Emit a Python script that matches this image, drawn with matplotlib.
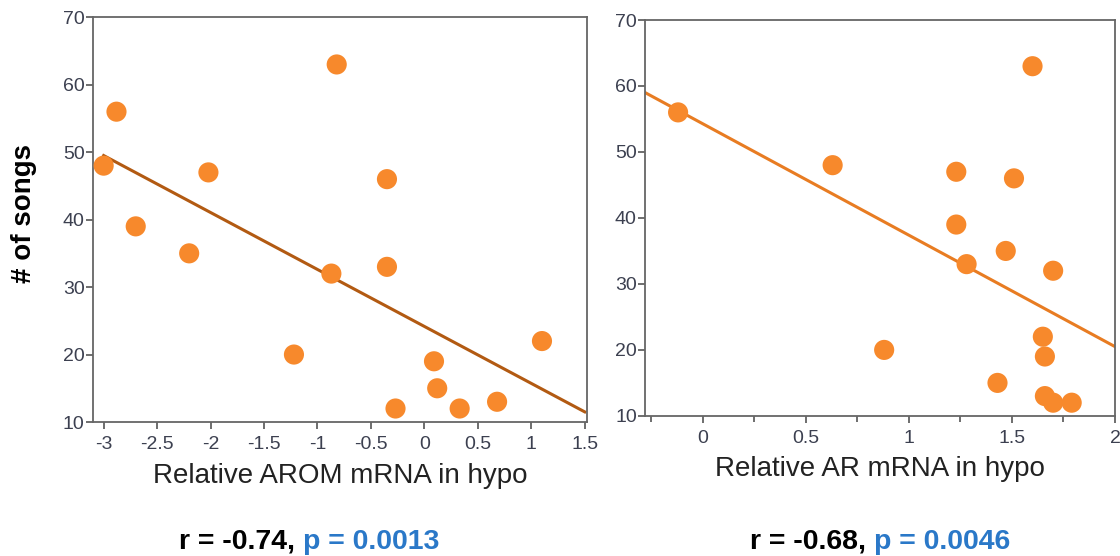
import numpy as np
import matplotlib.pyplot as plt
from matplotlib.ticker import MultipleLocator

plt.rcParams["font.family"] = ["Liberation Sans", "DejaVu Sans"]

# relative AROM mRNA vs song count
arom_x = [-3.0, -2.88, -2.7, -2.2, -2.02, -1.22, -0.87, -0.82, -0.35, -0.35, -0.27, 0.09, 0.12, 0.33, 0.68, 1.1]
arom_y = [48, 56, 39, 35, 47, 20, 32, 63, 46, 33, 12, 19, 15, 12, 13, 22]
arom_fit_x = [-3.0, 1.5]
arom_fit_y = [49.5, 11.5]

# relative AR mRNA vs song count
ar_x = [-0.12, 0.63, 0.88, 1.23, 1.23, 1.28, 1.43, 1.47, 1.51, 1.6, 1.65, 1.66, 1.66, 1.7, 1.7, 1.79]
ar_y = [56, 48, 20, 47, 39, 33, 15, 35, 46, 63, 22, 19, 13, 32, 12, 12]
ar_fit_x = [-0.28, 2.0]
ar_fit_y = [59.0, 20.5]

stats = [("r = -0.74, ", "p = 0.0013"), ("r = -0.68, ", "p = 0.0046")]

dot_color = "#f7892c"
tick_color = "#3c4050"

fig = plt.figure(figsize=(11.2, 5.56), dpi=100)
ax1 = fig.add_axes([0.083, 0.241, 0.441, 0.728])
ax2 = fig.add_axes([0.576, 0.252, 0.4195, 0.712])


def style(ax, xlim, major, minor=None):
    ax.set_xlim(*xlim)
    ax.set_ylim(10, 70)
    ax.xaxis.set_major_locator(MultipleLocator(major))
    if minor:
        ax.xaxis.set_minor_locator(MultipleLocator(minor))
    ax.yaxis.set_major_locator(MultipleLocator(10))
    ax.tick_params(axis="both", which="major", labelsize=14, colors="#555555",
                   labelcolor=tick_color, length=5, width=1.2)
    ax.tick_params(axis="x", which="minor", length=4, width=1.2, colors="#555555")
    ax.tick_params(axis="x", pad=5)
    ax.tick_params(axis="y", pad=1)
    for sp in ax.spines.values():
        sp.set_color("#666666")
        sp.set_linewidth(1.3)
    ax.xaxis.set_major_formatter(plt.FuncFormatter(lambda v, p: f"{v:g}"))


ax1.scatter(arom_x, arom_y, s=210, color=dot_color, edgecolors="none", zorder=3)
ax1.plot(arom_fit_x, arom_fit_y, color="#b25a12", lw=2.2, zorder=2)
style(ax1, (-3.1, 1.52), 0.5)
ax1.set_xlabel("Relative AROM mRNA in hypo", fontsize=20, color="#222222", labelpad=7)
ax1.set_ylabel("# of songs", fontsize=20, fontweight="bold")
ax1.yaxis.set_label_coords(-0.113, 0.515)

ax2.scatter(ar_x, ar_y, s=210, color=dot_color, edgecolors="none", zorder=3)
ax2.plot(ar_fit_x, ar_fit_y, color="#e87c22", lw=2.2, zorder=2)
style(ax2, (-0.28, 2.0), 0.5, 0.25)
ax2.set_xlabel("Relative AR mRNA in hypo", fontsize=20, color="#222222", labelpad=7)

for ax, (r_txt, p_txt), xc in zip([ax1, ax2], stats, [0.2705, 0.780]):
    fig.text(xc, 0.013, r_txt, fontsize=20.5, fontweight="bold", color="black",
             ha="right", va="baseline")
    fig.text(xc, 0.013, p_txt, fontsize=20.5, fontweight="bold", color="#2a78c8",
             ha="left", va="baseline")

fig.savefig("out.png", dpi=100)
